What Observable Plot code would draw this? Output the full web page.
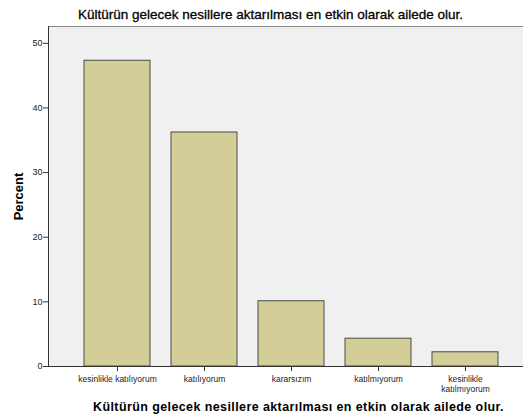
<!DOCTYPE html>
<html><head><meta charset="utf-8">
<script src="https://cdn.jsdelivr.net/npm/d3@7"></script>
<script src="https://cdn.jsdelivr.net/npm/@observablehq/plot@0.6"></script>
<style>
body{margin:0;background:#fff;}
svg{display:block;}
g[aria-description="title-bottom"] text{letter-spacing:0.4px;}
</style></head>
<body><div id="chart"></div>
<script>
const categories = ["kesinlikle katılıyorum","katılıyorum","kararsızım","katılmıyorum","kesinlikle\nkatılmıyorum"];
const percents = [47.3, 36.2, 10.1, 4.3, 2.2];
const yTicks = [0,10,20,30,40,50];
const title = "Kültürün gelecek nesillere aktarılması en etkin olarak ailede olur.";
const yLabel = "Percent";

const data = categories.map((c,i)=>({cat:c, pct:percents[i]}));
const font = "Arial, 'Liberation Sans', sans-serif";

const frameLines = (index, scales, values, dim) => {
  const g = d3.create("svg:g");
  const l = dim.marginLeft, t = dim.marginTop, r = dim.width - dim.marginRight, b = dim.height - dim.marginBottom;
  g.append("line").attr("x1",l).attr("x2",r).attr("y1",t+0.5).attr("y2",t+0.5).attr("stroke","#8a8a8a");
  g.append("line").attr("x1",l+0.5).attr("x2",l+0.5).attr("y1",t).attr("y2",b).attr("stroke","#333");
  g.append("line").attr("x1",l).attr("x2",r).attr("y1",b+0.5).attr("y2",b+0.5).attr("stroke","#333");
  return g.node();
};

const chart = Plot.plot({
  width: 523, height: 420,
  marginTop: 26, marginBottom: 54, marginLeft: 48, marginRight: 0,
  style: {fontFamily: font, background: "#fff", overflow: "hidden"},
  x: {domain: categories, range: [48, 534], paddingInner: 0.246, paddingOuter: 0.4},
  y: {domain: [0, 52.6]},
  marks: [
    Plot.frame({fill: "#f0f0f0", stroke: null}),
    Plot.barY(data, {x: "cat", y: "pct", fill: "#d3ce97", stroke: "#4a4a4a", strokeWidth: 1}),
    frameLines,
    Plot.axisY(yTicks, {tickSize: 5, tickPadding: 1, fontSize: 9, fill: "#222", stroke: "#333", label: null}),
    Plot.axisX({tickSize: 5, tickPadding: 4, fontSize: 8.5, fill: "#222", stroke: "#333", label: null, lineHeight: 1.15}),
    Plot.text([title], {frameAnchor: "top-left", dx: 222, dy: -11.5, lineAnchor: "middle", fontSize: 13.5, fill: "#000", stroke: "#000", strokeWidth: 0.3, textAnchor: "middle"}),
    Plot.text([title], {ariaDescription: "title-bottom", frameAnchor: "bottom-left", dx: 250, dy: 44, fontSize: 12.5, fontWeight: "bold", fill: "#000", textAnchor: "middle"}),
    Plot.text([yLabel], {frameAnchor: "left", dx: -30, rotate: -90, textAnchor: "middle", lineAnchor: "middle", fontSize: 13, fontWeight: "bold", fill: "#000"})
  ]
});
document.getElementById("chart").appendChild(chart);
</script></body></html>
